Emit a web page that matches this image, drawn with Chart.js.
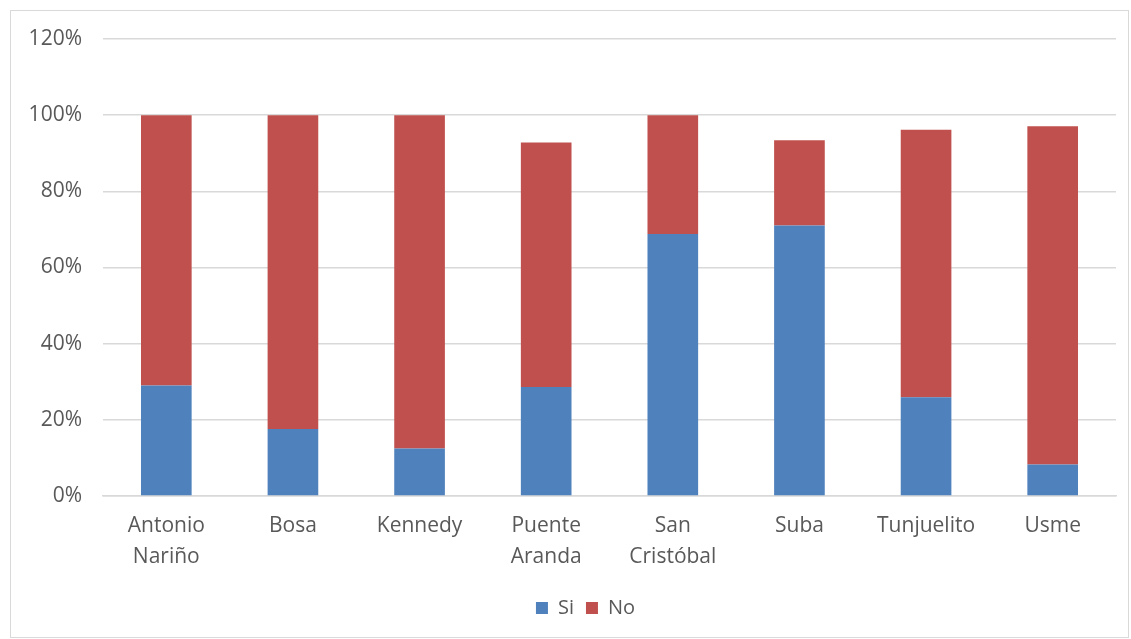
<!DOCTYPE html>
<html>
<head>
<meta charset="utf-8">
<script src="https://cdn.jsdelivr.net/npm/chart.js@4.4.1/dist/chart.umd.min.js"></script>
<style>
  html, body { margin: 0; padding: 0; background: #ffffff; }
  #frame {
    position: absolute; left: 10px; top: 10px;
    width: 1117px; height: 626px;
    border: 1px solid #d9d9d9; background: #ffffff;
  }
  #wrap { position: absolute; left: 0; top: 0; width: 1117px; height: 626px; }
</style>
</head>
<body>
<div id="frame"><div id="wrap"><canvas id="chart"></canvas></div></div>
<script>
// Localidades y porcentaje de respuestas
const categories = [
  ["Antonio", "Nariño"], "Bosa", "Kennedy", ["Puente", "Aranda"],
  ["San", "Cristóbal"], "Suba", "Tunjuelito", "Usme"
];
const siValues = [29.0, 17.6, 12.5, 28.6, 68.8, 71.0, 25.9, 8.3];
const noValues = [71.0, 82.4, 87.5, 64.2, 31.2, 22.4, 70.3, 88.8];
const yTicks = [0, 20, 40, 60, 80, 100, 120];

const textColor = "#595959";
const gridColor = "#d9d9d9";
const fontFamily = "'Open Sans', Lato, sans-serif";

const legendShift = {
  id: "legendShift",
  afterLayout(chart) {
    chart.legend.left += 22;
    chart.legend.right += 22;
  }
};

new Chart(document.getElementById("chart"), {
  type: "bar",
  data: {
    labels: categories,
    datasets: [
      { label: "Si", data: siValues, backgroundColor: "#4f81bd", borderWidth: 0 },
      { label: "No", data: noValues, backgroundColor: "#c0504d", borderWidth: 0 }
    ]
  },
  options: {
    responsive: true,
    maintainAspectRatio: false,
    animation: false,
    layout: { padding: { left: 0, right: 12, top: 28, bottom: 9 } },
    datasets: { bar: { barPercentage: 0.4, categoryPercentage: 1.0 } },
    plugins: {
      legend: {
        position: "bottom",
        labels: {
          boxWidth: 12, boxHeight: 12, padding: 12,
          color: textColor,
          font: { family: fontFamily, size: 20 }
        }
      },
      tooltip: { enabled: false }
    },
    scales: {
      x: {
        stacked: true,
        grid: { display: false, drawTicks: false },
        border: { display: true, color: gridColor, width: 1.5 },
        ticks: {
          color: textColor, padding: 14, maxRotation: 0, autoSkip: false,
          font: { family: fontFamily, size: 21, lineHeight: 1.49 }
        },
        afterFit(scale) { scale.height = 90; }
      },
      y: {
        stacked: true,
        min: 0, max: 120,
        afterBuildTicks(scale) { scale.ticks = yTicks.map(v => ({ value: v })); },
        grid: { color: gridColor, lineWidth: 1.5, drawTicks: false },
        border: { display: false },
        ticks: {
          color: textColor, padding: 21,
          font: { family: fontFamily, size: 21 },
          callback: v => v + "%"
        },
        afterFit(scale) {
          scale.width = 92;
          scale.paddingTop = 0;
          scale.paddingBottom = 0;
        }
      }
    }
  },
  plugins: [legendShift]
});
</script>
</body>
</html>
